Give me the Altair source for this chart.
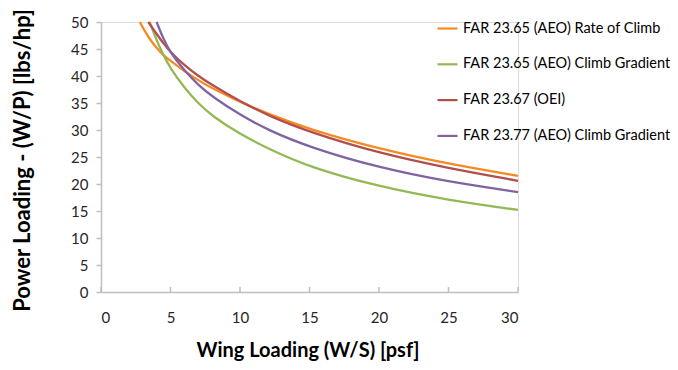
import altair as alt
import pandas as pd

# Series
series_names = [
    "FAR 23.65 (AEO) Rate of Climb",
    "FAR 23.65 (AEO) Climb Gradient",
    "FAR 23.67 (OEI)",
    "FAR 23.77 (AEO) Climb Gradient",
]
colors = ["#F58A23", "#93B955", "#B24F4C", "#8064A2"]

roc_x = [2.8, 3.0, 3.5, 4.0, 4.5, 5, 6, 7, 8, 10, 12, 15, 20, 25, 30]
roc_y = [50.0, 49.0, 46.8, 45.2, 43.8, 42.8, 40.9, 39.2, 37.7, 35.2, 33.0, 30.1, 26.5, 23.7, 21.5]

grad_x = [3.5, 4.0, 4.5, 5, 6, 7, 8, 10, 12, 15, 20, 25, 30]
grad_y = [50.0, 46.6, 43.8, 41.4, 37.8, 34.9, 32.6, 29.2, 26.6, 23.1, 19.5, 17.0, 15.2]

oei_x = [3.4, 4.0, 4.5, 5, 6, 7, 8, 10, 12, 15, 20, 25, 30]
oei_y = [50.0, 47.8, 46.0, 44.4, 42.0, 40.0, 38.3, 35.3, 32.7, 29.6, 25.7, 22.9, 20.6]

g77_x = [4.0, 4.5, 5, 6, 7, 8, 10, 12, 15, 20, 25, 30]
g77_y = [50.0, 46.8, 44.3, 41.0, 38.3, 36.2, 32.8, 30.0, 26.8, 23.0, 20.4, 18.5]

x_ticks = [0, 5, 10, 15, 20, 25, 30]
y_ticks = [0, 5, 10, 15, 20, 25, 30, 35, 40, 45, 50]

frames = []
for name, xs, ys in zip(series_names,
                        [roc_x, grad_x, oei_x, g77_x],
                        [roc_y, grad_y, oei_y, g77_y]):
    frames.append(pd.DataFrame({"ws": xs, "wp": ys, "series": name,
                                "order": list(range(len(xs)))}))
df = pd.concat(frames, ignore_index=True)
ticks_df = pd.DataFrame({"t": x_ticks})

FONT = "Lato"
W, H = 417, 270
AX = "#BFBFBF"

xscale = alt.Scale(domain=[0, 30], nice=False, zero=False)
yscale = alt.Scale(domain=[0, 50], nice=False, zero=False)

lines = alt.Chart(df).mark_line(strokeWidth=2.3, interpolate="basis").encode(
    x=alt.X("ws:Q", scale=xscale,
            axis=alt.Axis(values=x_ticks, ticks=False, tickSize=0, grid=False,
                          domainColor=AX, domainWidth=1.5,
                          labelFont=FONT, labelFontSize=15, labelColor="#262626",
                          labelPadding=18,
                          title="Wing Loading (W/S) [psf]",
                          titleFont=FONT, titleFontSize=20, titleFontWeight="bold",
                          titleColor="#000000",
                          titleX=W / 2 - 2, titleY=58, titleAlign="center",
                          titleBaseline="middle")),
    y=alt.Y("wp:Q", scale=yscale,
            axis=alt.Axis(values=y_ticks, tickSize=5, tickColor=AX, tickWidth=1.5,
                          grid=False, domainColor=AX, domainWidth=1.5,
                          labelFont=FONT, labelFontSize=15, labelColor="#262626",
                          labelPadding=8,
                          title="Power Loading - (W/P) [lbs/hp]",
                          titleFont=FONT, titleFontSize=22, titleFontWeight="bold",
                          titleColor="#000000",
                          titleX=-79, titleY=H / 2 + 3, titleAngle=270,
                          titleAlign="center", titleBaseline="middle")),
    color=alt.Color("series:N",
                    scale=alt.Scale(domain=series_names, range=colors),
                    sort=series_names,
                    legend=alt.Legend(title=None, orient="none", legendX=335,
                                      legendY=-5, symbolType="stroke",
                                      symbolSize=400, symbolStrokeWidth=2.2,
                                      labelFont=FONT, labelFontSize=14.5,
                                      labelColor="#000000", labelOffset=4,
                                      rowPadding=17.8, labelLimit=400)),
    order="order:Q",
)

xticks = alt.Chart(ticks_df).mark_rule(color=AX, strokeWidth=1.5).encode(
    x=alt.X("t:Q", scale=xscale),
    y=alt.value(H - 5),
    y2=alt.value(H),
)

chart = alt.layer(xticks, lines).properties(
    width=W, height=H,
    autosize=alt.AutoSizeParams(type="none"),
    padding={"left": 93, "top": 14, "right": 152, "bottom": 70},
).configure_view(stroke=None).configure(background="white")

chart.save("out.html", embed_options={"renderer": "svg", "actions": False})
